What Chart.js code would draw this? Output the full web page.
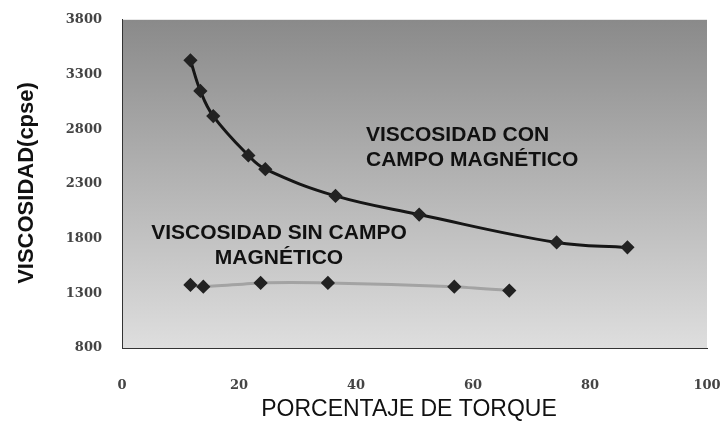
<!DOCTYPE html>
<html>
<head>
<meta charset="utf-8">
<script src="https://cdn.jsdelivr.net/npm/chart.js@4.4.0/dist/chart.umd.min.js"></script>
<style>
  html, body { margin: 0; padding: 0; background: #fff; }
  #wrap { width: 722px; height: 430px; }
</style>
</head>
<body>
<div id="wrap"><canvas id="myChart" width="722" height="430"></canvas></div>
<script>
// torque % (x) and viscosity in cpse (y)
const conCampoX = [11.7, 13.4, 15.6, 21.6, 24.5, 36.5, 50.8, 74.3, 86.4];
const conCampoY = [3430, 3150, 2920, 2560, 2435, 2190, 2020, 1765, 1720];
const sinCampoX = [11.7, 13.9, 23.7, 35.2, 56.8, 66.2];
const sinCampoY = [1377, 1360, 1395, 1395, 1360, 1325];
const yTicks = [800, 1300, 1800, 2300, 2800, 3300, 3800];
const xTicks = [0, 20, 40, 60, 80, 100];

function toPoints(xs, ys) {
    return xs.map((x, i) => ({ x: x, y: ys[i] }));
}

// gray gradient behind the plot
const plotBg = {
    id: 'plotBg',
    beforeDraw(chart) {
        const { ctx, chartArea: a } = chart;
        const g = ctx.createLinearGradient(0, a.top, 0, a.bottom);
        g.addColorStop(0, '#8a8a8a');
        g.addColorStop(1, '#dedede');
        ctx.save();
        ctx.fillStyle = g;
        ctx.fillRect(a.left, a.top, a.right - a.left, a.bottom - a.top);
        ctx.restore();
    }
};

// labels inside the plot + axis titles
const texts = {
    id: 'texts',
    afterDraw(chart) {
        const ctx = chart.ctx;
        ctx.save();
        ctx.fillStyle = '#111';
        ctx.textBaseline = 'middle';
        ctx.font = 'bold 21px "Liberation Sans", Arial, sans-serif';
        ctx.textAlign = 'left';
        ctx.fillText('VISCOSIDAD CON', 366, 135);
        ctx.fillText('CAMPO MAGNÉTICO', 366, 160);
        ctx.textAlign = 'center';
        ctx.fillText('VISCOSIDAD SIN CAMPO', 279, 233);
        ctx.fillText('MAGNÉTICO', 279, 258);

        ctx.font = '23px "Liberation Sans", Arial, sans-serif';
        ctx.fillText('PORCENTAJE DE TORQUE', 409, 410);

        ctx.translate(27, 183);
        ctx.rotate(-Math.PI / 2);
        ctx.font = 'bold 22px "Liberation Sans", Arial, sans-serif';
        ctx.fillText('VISCOSIDAD(cpse)', 0, 0);
        ctx.restore();
    }
};

let ctx = document.getElementById('myChart').getContext('2d');
let chart = new Chart(ctx, {
    type: 'scatter',
    data: {
        datasets: [{
            label: 'Viscosidad con campo magnético',
            data: toPoints(conCampoX, conCampoY),
            showLine: true,
            borderColor: '#161616',
            borderWidth: 3,
            tension: 0.4,
            pointStyle: 'rectRot',
            pointRadius: 5,
            pointBackgroundColor: '#222',
            pointBorderColor: '#222'
        }, {
            label: 'Viscosidad sin campo magnético',
            data: toPoints(sinCampoX, sinCampoY),
            showLine: true,
            borderColor: '#a3a3a3',
            borderWidth: 3,
            tension: 0.2,
            pointStyle: 'rectRot',
            pointRadius: 5,
            pointBackgroundColor: '#222',
            pointBorderColor: '#222'
        }]
    },
    options: {
        responsive: false,
        animation: false,
        layout: { padding: { top: 16, right: 0, left: 0, bottom: 0 } },
        plugins: { legend: { display: false }, tooltip: { enabled: false } },
        scales: {
            x: {
                type: 'linear', min: 0, max: 100,
                afterBuildTicks: s => { s.ticks = xTicks.map(v => ({ value: v })); },
                afterFit: s => { s.height = 82; s.paddingRight = 15; s.paddingLeft = 0; },
                grid: { display: false },
                border: { display: true, color: '#333', width: 1, dash: [2, 1] },
                ticks: {
                    color: '#444', padding: 22,
                    callback: v => String(v),
                    font: { family: '"DejaVu Serif", serif', size: 13, weight: 'bold' }
                }
            },
            y: {
                type: 'linear', min: 800, max: 3800,
                afterBuildTicks: s => { s.ticks = yTicks.map(v => ({ value: v })); },
                afterFit: s => { s.width = 122; },
                grid: { display: false },
                border: { display: true, color: '#333', width: 1, dash: [2, 1] },
                ticks: {
                    color: '#444', padding: 12,
                    callback: v => String(v),
                    font: { family: '"DejaVu Serif", serif', size: 13, weight: 'bold' }
                }
            }
        }
    },
    plugins: [plotBg, texts]
});
</script>
</body>
</html>
